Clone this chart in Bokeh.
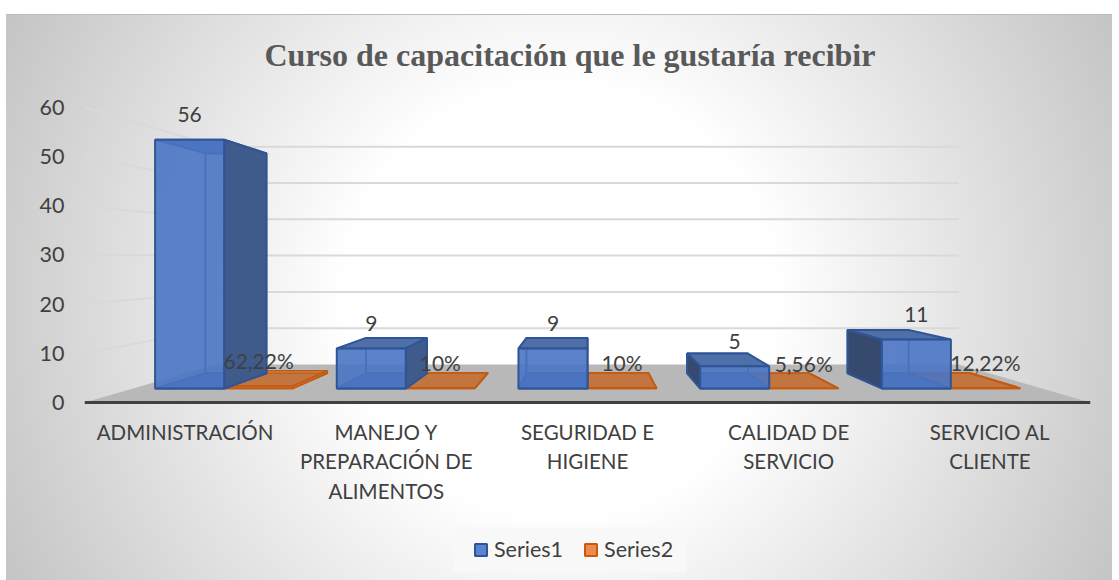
from bokeh.plotting import figure
from bokeh.models import Range1d, FixedTicker, Legend, LegendItem, ColumnDataSource, Title, BoxAnnotation
from bokeh.core.properties import value
from bokeh.embed import file_html
from bokeh.resources import INLINE

categories = ["ADMINISTRACIÓN", "MANEJO Y\nPREPARACIÓN DE\nALIMENTOS", "SEGURIDAD E\nHIGIENE",
              "CALIDAD DE\nSERVICIO", "SERVICIO AL\nCLIENTE"]
series1 = [56, 9, 9, 5, 11]
series2 = [0.6222, 0.10, 0.10, 0.0556, 0.1222]
series2_labels = ["62,22%", "10%", "10%", "5,56%", "12,22%"]
y_ticks = [0, 10, 20, 30, 40, 50, 60]

# perspective of the 3D scene, in axis units
VX, VY = 2.5, 29.47      # vanishing point
S_FRONT, S_BACK = 0.903, 0.798   # depth scales of the bars' front and back planes
S_FLOOR = 0.738          # depth scale of the back wall
BAR_W = 0.38
GAP = 0.12

def proj(x, y, s):
    return VX + s * (x - VX), VY + s * (y - VY)

def face(corners):
    pts = [proj(*c) for c in corners]
    return [q[0] for q in pts], [q[1] for q in pts]

def box(x0, x1, v):
    return {
        "bottom": face([(x0, 0, S_FRONT), (x1, 0, S_FRONT), (x1, 0, S_BACK), (x0, 0, S_BACK)]),
        "top": face([(x0, v, S_FRONT), (x1, v, S_FRONT), (x1, v, S_BACK), (x0, v, S_BACK)]),
        "left": face([(x0, 0, S_FRONT), (x0, v, S_FRONT), (x0, v, S_BACK), (x0, 0, S_BACK)]),
        "right": face([(x1, 0, S_FRONT), (x1, v, S_FRONT), (x1, v, S_BACK), (x1, 0, S_BACK)]),
        "back": face([(x0, 0, S_BACK), (x1, 0, S_BACK), (x1, v, S_BACK), (x0, v, S_BACK)]),
        "front": face([(x0, 0, S_FRONT), (x1, 0, S_FRONT), (x1, v, S_FRONT), (x0, v, S_FRONT)]),
    }

n = len(categories)
TEXT = "#404040"
FONT = "Lato"
BLUE_EDGE = "#2f5597"
ORANGE_EDGE = "#c55a11"

p = figure(width=1106, height=566, x_range=Range1d(0, n), y_range=Range1d(-34.96, 65.45),
           output_backend="svg", toolbar_location=None,
           background_fill_color=None, border_fill_color=None, outline_line_color=None,
           min_border_left=78, min_border_right=22, min_border_top=66, min_border_bottom=6)
p.styles = {"position": "absolute", "left": "6px", "top": "14px",
            "background": "radial-gradient(circle 650px at 554px 286px, #ffffff 33%, #c0c0c0 100%)",
            "box-shadow": "inset 0 1px 0 #bdbdbd"}
p.grid.visible = False

p.title = Title(text="Curso de capacitación que le gustaría recibir", align="left", offset=180,
                text_font="Liberation Serif", text_font_size="32px", text_font_style="bold",
                text_color="#595959", standoff=15)

# axes
p.xaxis.fixed_location = 0
p.xaxis.ticker = FixedTicker(ticks=[i + 0.5 for i in range(n)])
p.xaxis.major_label_overrides = {i + 0.5: c for i, c in enumerate(categories)}
p.xaxis.axis_line_color = TEXT
p.xaxis.axis_line_width = 3
p.xaxis.major_tick_line_color = None
p.xaxis.minor_tick_line_color = None
p.xaxis.major_label_standoff = 11
p.xaxis.major_label_text_font = FONT
p.xaxis.major_label_text_font_size = "20.5px"
p.xaxis.major_label_text_color = TEXT
p.xaxis.major_label_text_line_height = 1.24

p.yaxis.ticker = FixedTicker(ticks=y_ticks)
p.yaxis.axis_line_color = None
p.yaxis.major_tick_line_color = None
p.yaxis.minor_tick_line_color = None
p.yaxis.major_label_standoff = 14
p.yaxis.major_label_text_font = FONT
p.yaxis.major_label_text_font_size = "21.5px"
p.yaxis.major_label_text_color = TEXT

# legend backdrop (canvas pixels)
p.add_layout(BoxAnnotation(left=447, right=680, top=513, bottom=558,
                           left_units="canvas", right_units="canvas",
                           top_units="canvas", bottom_units="canvas",
                           fill_color="#f8f8f8", fill_alpha=1, line_color=None, level="underlay"))

# legend keys: zero-area marks, covered by the floor drawn next
kx, ky = proj(VX, 0, S_FRONT)
k1 = p.patch([kx, kx, kx], [ky, ky, ky], fill_color="#5b84d0", line_color=BLUE_EDGE, line_width=2)
k2 = p.patch([kx, kx, kx], [ky, ky, ky], fill_color="#ed8b4c", line_color=ORANGE_EDGE, line_width=2)

# floor
fx, fy = face([(0, 0, 1), (n, 0, 1), (n, 0, S_FLOOR), (0, 0, S_FLOOR)])
p.patch(fx, fy, fill_color="#b8b8b8", line_color=None)

# walls' gridlines
for t in y_ticks[1:]:
    wx, wy = face([(0, t, 1), (0, t, S_FLOOR), (n, t, S_FLOOR)])
    p.line(wx, wy, line_color="#d9d9d9", line_width=2)

lab = {"x": [], "y": [], "t": []}
for i in range(n):
    x0, x1 = i + GAP, i + GAP + BAR_W
    x2 = x1 + BAR_W
    # series 2: a very low box
    b = box(x1, x2, series2[i])
    for k in ("bottom", "right", "left", "top", "front"):
        p.patch(*b[k], fill_color="#c4651f", fill_alpha=0.55 if k != "front" else 0.9,
                line_color=ORANGE_EDGE, line_width=1.5)
    # series 1
    b = box(x0, x1, series1[i])
    p.patch(*b["back"], fill_color=None, line_color=BLUE_EDGE, line_width=2)
    p.patch(*b["bottom"], fill_color="#4a6aa5", fill_alpha=0.9, line_color=BLUE_EDGE, line_width=2)
    p.patch(*b["top"], fill_color="#4f6fa8", line_color=BLUE_EDGE, line_width=2)
    if x1 < VX:
        p.patch(*b["right"], fill_color="#3f5b8c", line_color=BLUE_EDGE, line_width=2)
    if x0 > VX:
        p.patch(*b["left"], fill_color="#364a70", line_color=BLUE_EDGE, line_width=2)
    p.patch(*b["front"], fill_color="#4a74c3", fill_alpha=0.9, line_color=BLUE_EDGE, line_width=2)
    # labels, centred over each front face
    tx, ty = proj((x0 + x1) / 2, series1[i], S_FRONT)
    lab["x"].append(tx); lab["y"].append(ty); lab["t"].append(str(series1[i]))
    tx, ty = proj((x1 + x2) / 2, series2[i], S_FRONT)
    lab["x"].append(tx); lab["y"].append(ty); lab["t"].append(series2_labels[i])

p.text(x="x", y="y", text="t", source=ColumnDataSource(lab), text_align="center",
       text_baseline="middle", y_offset=-25, text_color=TEXT,
       text_font=value(FONT), text_font_size="21px")

legend = Legend(items=[LegendItem(label="Series1", renderers=[k1]),
                       LegendItem(label="Series2", renderers=[k2])],
                orientation="horizontal", location=(389, 12), margin=0, padding=12,
                background_fill_alpha=0, border_line_color=None,
                label_text_font=FONT, label_text_font_size="21.5px", label_text_color=TEXT,
                glyph_width=15, glyph_height=15, spacing=20, label_standoff=6)
p.add_layout(legend, "center")

open("out.html", "w").write(file_html(p, INLINE))
